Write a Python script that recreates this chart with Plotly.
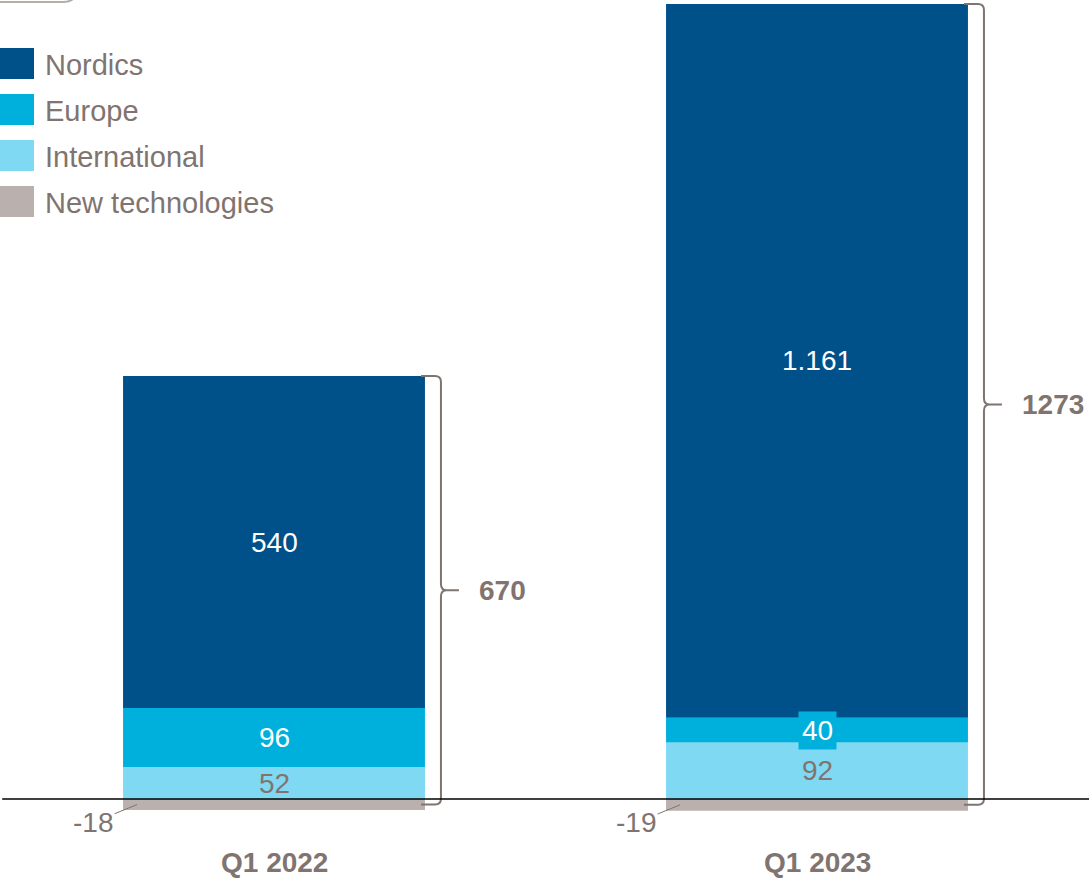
import plotly.graph_objects as go

# ---- data -------------------------------------------------------------
categories = ["Q1 2022", "Q1 2023"]
nordics = [540, 1161]
europe = [96, 40]
international = [52, 92]
new_technologies = [-18, -19]
totals = [670, 1273]
nordics_labels = ["540", "1.161"]
legend_names = ["Nordics", "Europe", "International", "New technologies"]

# ---- style ------------------------------------------------------------
W, H = 1089, 879
FONT = "Liberation Sans, Arial, sans-serif"
GREY_TEXT = "#7f7470"
C_NOR = "#00508a"
C_EUR = "#00b0dc"
C_INT = "#80d9f3"
C_NEW = "#bab1ae"
legend_colors = [C_NOR, C_EUR, C_INT, C_NEW]

x_range = [-0.5046, 1.5009]
y_range = [-130.1, 1299.6]
px_x = W / (x_range[1] - x_range[0])   # pixels per category unit
px_y = H / (y_range[1] - y_range[0])   # pixels per value unit
bar_w = 0.556
LABEL_SIZE = 28

xs = list(range(len(categories)))

fig = go.Figure()
# positive segments stack upward from zero in trace order
for name, vals, col in [
    ("International", international, C_INT),
    ("Europe", europe, C_EUR),
    ("Nordics", nordics, C_NOR),
    ("New technologies", new_technologies, C_NEW),
]:
    fig.add_bar(
        x=xs, y=vals, name=name, width=bar_w,
        marker=dict(color=col, line_width=0),
        showlegend=False, hoverinfo="name+y",
    )

annotations = []
shapes = []

for i in xs:
    b_int = international[i] / 2
    b_eur = international[i] + europe[i] / 2
    b_nor = international[i] + europe[i] + nordics[i] / 2
    seg_labels = [
        (b_int, str(international[i]), GREY_TEXT, None),
        (b_eur, str(europe[i]), "white", C_EUR),
        (b_nor, nordics_labels[i], "white", C_NOR),
    ]
    for yv, txt, fc, bg in seg_labels:
        ann = dict(
            x=i, y=yv, xref="x", yref="y", text=txt, showarrow=False,
            font=dict(family=FONT, size=LABEL_SIZE, color=fc),
            xanchor="center", yanchor="middle", borderpad=3,
        )
        if bg:
            ann["bgcolor"] = bg
        annotations.append(ann)

    # negative segment label with a leader line
    annotations.append(dict(
        x=i - bar_w / 2 + 14 / px_x, y=new_technologies[i] / 2,
        xref="x", yref="y", text=str(new_technologies[i]),
        showarrow=True, arrowhead=0, arrowwidth=1, arrowcolor=GREY_TEXT,
        ax=-44, ay=18, font=dict(family=FONT, size=LABEL_SIZE, color=GREY_TEXT),
    ))

    # curly brace spanning the stack, with the total beside it
    top = international[i] + europe[i] + nordics[i]
    bot = new_technologies[i] / 2
    mid = (top + bot) / 2
    xr = i + bar_w / 2
    x_s = xr - 4 / px_x
    x_v = xr + 16 / px_x
    x_t = xr + 34 / px_x
    rx = 6 / px_x
    ry = 6 / px_y
    path = (
        f"M {x_s},{top} L {x_v - rx},{top} Q {x_v},{top} {x_v},{top - ry} "
        f"L {x_v},{mid + ry} Q {x_v},{mid} {x_v + rx},{mid} L {x_t},{mid} "
        f"M {x_v + rx},{mid} Q {x_v},{mid} {x_v},{mid - ry} "
        f"L {x_v},{bot + ry} Q {x_v},{bot} {x_v - rx},{bot} L {x_s},{bot}"
    )
    shapes.append(dict(type="path", path=path, xref="x", yref="y",
                       line=dict(color=GREY_TEXT, width=2)))
    annotations.append(dict(
        x=x_t + 18 / px_x, y=mid, xref="x", yref="y",
        text=f"<b>{totals[i]}</b>", showarrow=False,
        xanchor="left", yanchor="middle",
        font=dict(family=FONT, size=LABEL_SIZE, color=GREY_TEXT),
    ))

    # category label under the bar
    annotations.append(dict(
        x=i, y=-103, xref="x", yref="y", text=f"<b>{categories[i]}</b>",
        showarrow=False, xanchor="center", yanchor="middle",
        font=dict(family=FONT, size=LABEL_SIZE, color=GREY_TEXT),
    ))

# zero line
shapes.append(dict(type="line", xref="paper", yref="y", x0=0.002, x1=1, y0=0, y1=0,
                   line=dict(color="black", width=1.5)))

# rounded frame edge at the top left
shapes.append(dict(
    type="path", xref="paper", yref="paper",
    path=(f"M {-5 / W},{1 - 2 / H} L {63 / W},{1 - 2 / H} "
          f"Q {76 / W},{1 - 2 / H} {77 / W},{1 + 10 / H}"),
    line=dict(color="#b5adaa", width=2),
))

# legend
for k, (name, col) in enumerate(zip(legend_names, legend_colors)):
    top_px = 48 + 46 * k
    shapes.append(dict(
        type="rect", xref="paper", yref="paper",
        x0=-2 / W, x1=34 / W, y0=1 - (top_px + 31) / H, y1=1 - top_px / H,
        fillcolor=col, line_width=0,
    ))
    annotations.append(dict(
        x=43 / W, y=1 - (top_px + 17) / H, xref="paper", yref="paper",
        text=name, showarrow=False, xanchor="left", yanchor="middle",
        font=dict(family=FONT, size=29, color=GREY_TEXT),
    ))

fig.update_layout(
    width=W, height=H,
    margin=dict(l=0, r=0, t=0, b=0),
    barmode="relative",
    plot_bgcolor="white", paper_bgcolor="white",
    xaxis=dict(range=x_range, visible=False, fixedrange=True),
    yaxis=dict(range=y_range, visible=False, fixedrange=True),
    shapes=shapes, annotations=annotations,
    font=dict(family=FONT, color=GREY_TEXT),
)

fig.write_html("out.html")
